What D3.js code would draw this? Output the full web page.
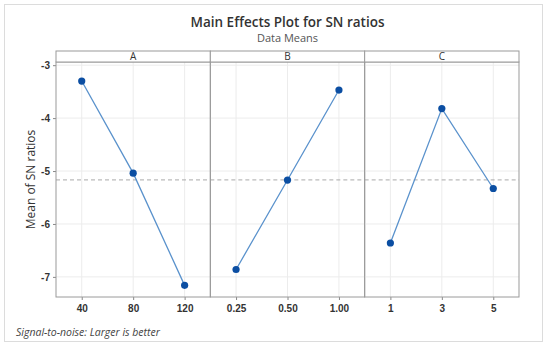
<!DOCTYPE html>
<html>
<head>
<meta charset="utf-8">
<script src="https://cdn.jsdelivr.net/npm/d3@7"></script>
<style>
  body { margin: 0; background: #fff; }
  svg { font-family: "Open Sans", "Noto Sans", sans-serif; }
</style>
</head>
<body>
<svg id="chart" width="550" height="346"></svg>
<script>
const factors = ['A', 'B', 'C'];
const levelsA = ['40', '80', '120'];
const levelsB = ['0.25', '0.50', '1.00'];
const levelsC = ['1', '3', '5'];
const meansA = [-3.30, -5.04, -7.16];
const meansB = [-6.86, -5.17, -3.47];
const meansC = [-6.36, -3.82, -5.33];
const yTicks = [-3, -4, -5, -6, -7];

const panels = [
  { name: factors[0], levels: levelsA, values: meansA },
  { name: factors[1], levels: levelsB, values: meansB },
  { name: factors[2], levels: levelsC, values: meansC }
];
const grandMean = d3.mean(panels.flatMap(p => p.values));

const svg = d3.select('#chart');
const margin = { top: 62, right: 31, bottom: 49, left: 56 };
const stripH = 11;
const width = 550 - margin.left - margin.right;
const height = 346 - margin.top - margin.bottom;

// outer frame
svg.append('rect')
  .attr('x', 4.5).attr('y', 4.5)
  .attr('width', 538).attr('height', 337)
  .attr('fill', '#fff')
  .attr('stroke', '#dcdcdc');

svg.append('text')
  .attr('x', margin.left + width / 2).attr('y', 27)
  .attr('text-anchor', 'middle')
  .attr('font-size', 13.5).attr('font-weight', 600)
  .attr('fill', '#333')
  .text('Main Effects Plot for SN ratios');

svg.append('text')
  .attr('x', margin.left + width / 2).attr('y', 42)
  .attr('text-anchor', 'middle')
  .attr('font-size', 11).attr('fill', '#555')
  .text('Data Means');

const y = d3.scaleLinear().domain([-7.38, -2.94]).range([height, 0]);
const panelW = width / panels.length;

const g = svg.append('g')
  .attr('transform', 'translate(' + margin.left + ',' + margin.top + ')');

// y axis
g.append('g')
  .attr('class', 'axis axis-y')
  .call(d3.axisLeft(y).tickValues(yTicks).tickSize(3).tickFormat(d => String(d)))
  .call(a => a.select('.domain').remove())
  .call(a => a.selectAll('line').attr('stroke', '#888'))
  .call(a => a.selectAll('text').attr('font-size', 10).attr('font-weight', 600)
    .attr('fill', '#333').attr('font-family', 'inherit'));

svg.append('text')
  .attr('transform', 'translate(31,' + (margin.top + height / 2) + ') rotate(-90)')
  .attr('text-anchor', 'middle')
  .attr('dy', '0.35em')
  .attr('font-size', 12).attr('fill', '#333')
  .text('Mean of SN ratios');

const line = d3.line();

panels.forEach((p, i) => {
  const x = d3.scalePoint().domain(p.levels).range([0, panelW]).padding(0.5);
  const pg = g.append('g').attr('transform', 'translate(' + (i * panelW) + ',0)');

  // grid
  pg.selectAll('.hgrid').data(yTicks).join('line')
    .attr('x1', 0).attr('x2', panelW)
    .attr('y1', d => y(d)).attr('y2', d => y(d))
    .attr('stroke', '#ececec');
  pg.selectAll('.vgrid').data(p.levels).join('line')
    .attr('x1', d => x(d)).attr('x2', d => x(d))
    .attr('y1', 0).attr('y2', height)
    .attr('stroke', '#ececec');

  // mean reference
  pg.append('line')
    .attr('x1', 0).attr('x2', panelW)
    .attr('y1', y(grandMean)).attr('y2', y(grandMean))
    .attr('stroke', '#aaa').attr('stroke-dasharray', '4,3');

  // x axis
  pg.append('g')
    .attr('transform', 'translate(0,' + height + ')')
    .call(d3.axisBottom(x).tickSize(3).tickPadding(5))
    .call(a => a.select('.domain').remove())
    .call(a => a.selectAll('line').attr('stroke', '#888'))
    .call(a => a.selectAll('text').attr('font-size', 10).attr('font-weight', 600)
      .attr('fill', '#333').attr('font-family', 'inherit'));

  pg.append('path')
    .datum(p.levels.map((l, k) => [x(l), y(p.values[k])]))
    .attr('fill', 'none')
    .attr('stroke', '#5a92cc')
    .attr('stroke-width', 1.3)
    .attr('d', line);

  pg.selectAll('circle').data(p.values).join('circle')
    .attr('cx', (d, k) => x(p.levels[k]))
    .attr('cy', d => y(d))
    .attr('r', 3.6)
    .attr('fill', '#0b4ea2');

  // panel frame
  pg.append('rect')
    .attr('x', 0).attr('y', 0)
    .attr('width', panelW).attr('height', height)
    .attr('fill', 'none').attr('stroke', '#9a9a9a');

  // strip
  pg.append('rect')
    .attr('x', 0).attr('y', -stripH)
    .attr('width', panelW).attr('height', stripH)
    .attr('fill', '#fff').attr('stroke', '#9a9a9a');
  pg.append('text')
    .attr('x', panelW / 2).attr('y', -stripH / 2)
    .attr('dy', '0.35em')
    .attr('text-anchor', 'middle')
    .attr('font-size', 10).attr('fill', '#333')
    .text(p.name);
});

svg.append('text')
  .attr('x', 16).attr('y', 336)
  .attr('font-size', 10.5).attr('font-style', 'italic')
  .attr('fill', '#444')
  .text('Signal-to-noise: Larger is better');
</script>
</body>
</html>
